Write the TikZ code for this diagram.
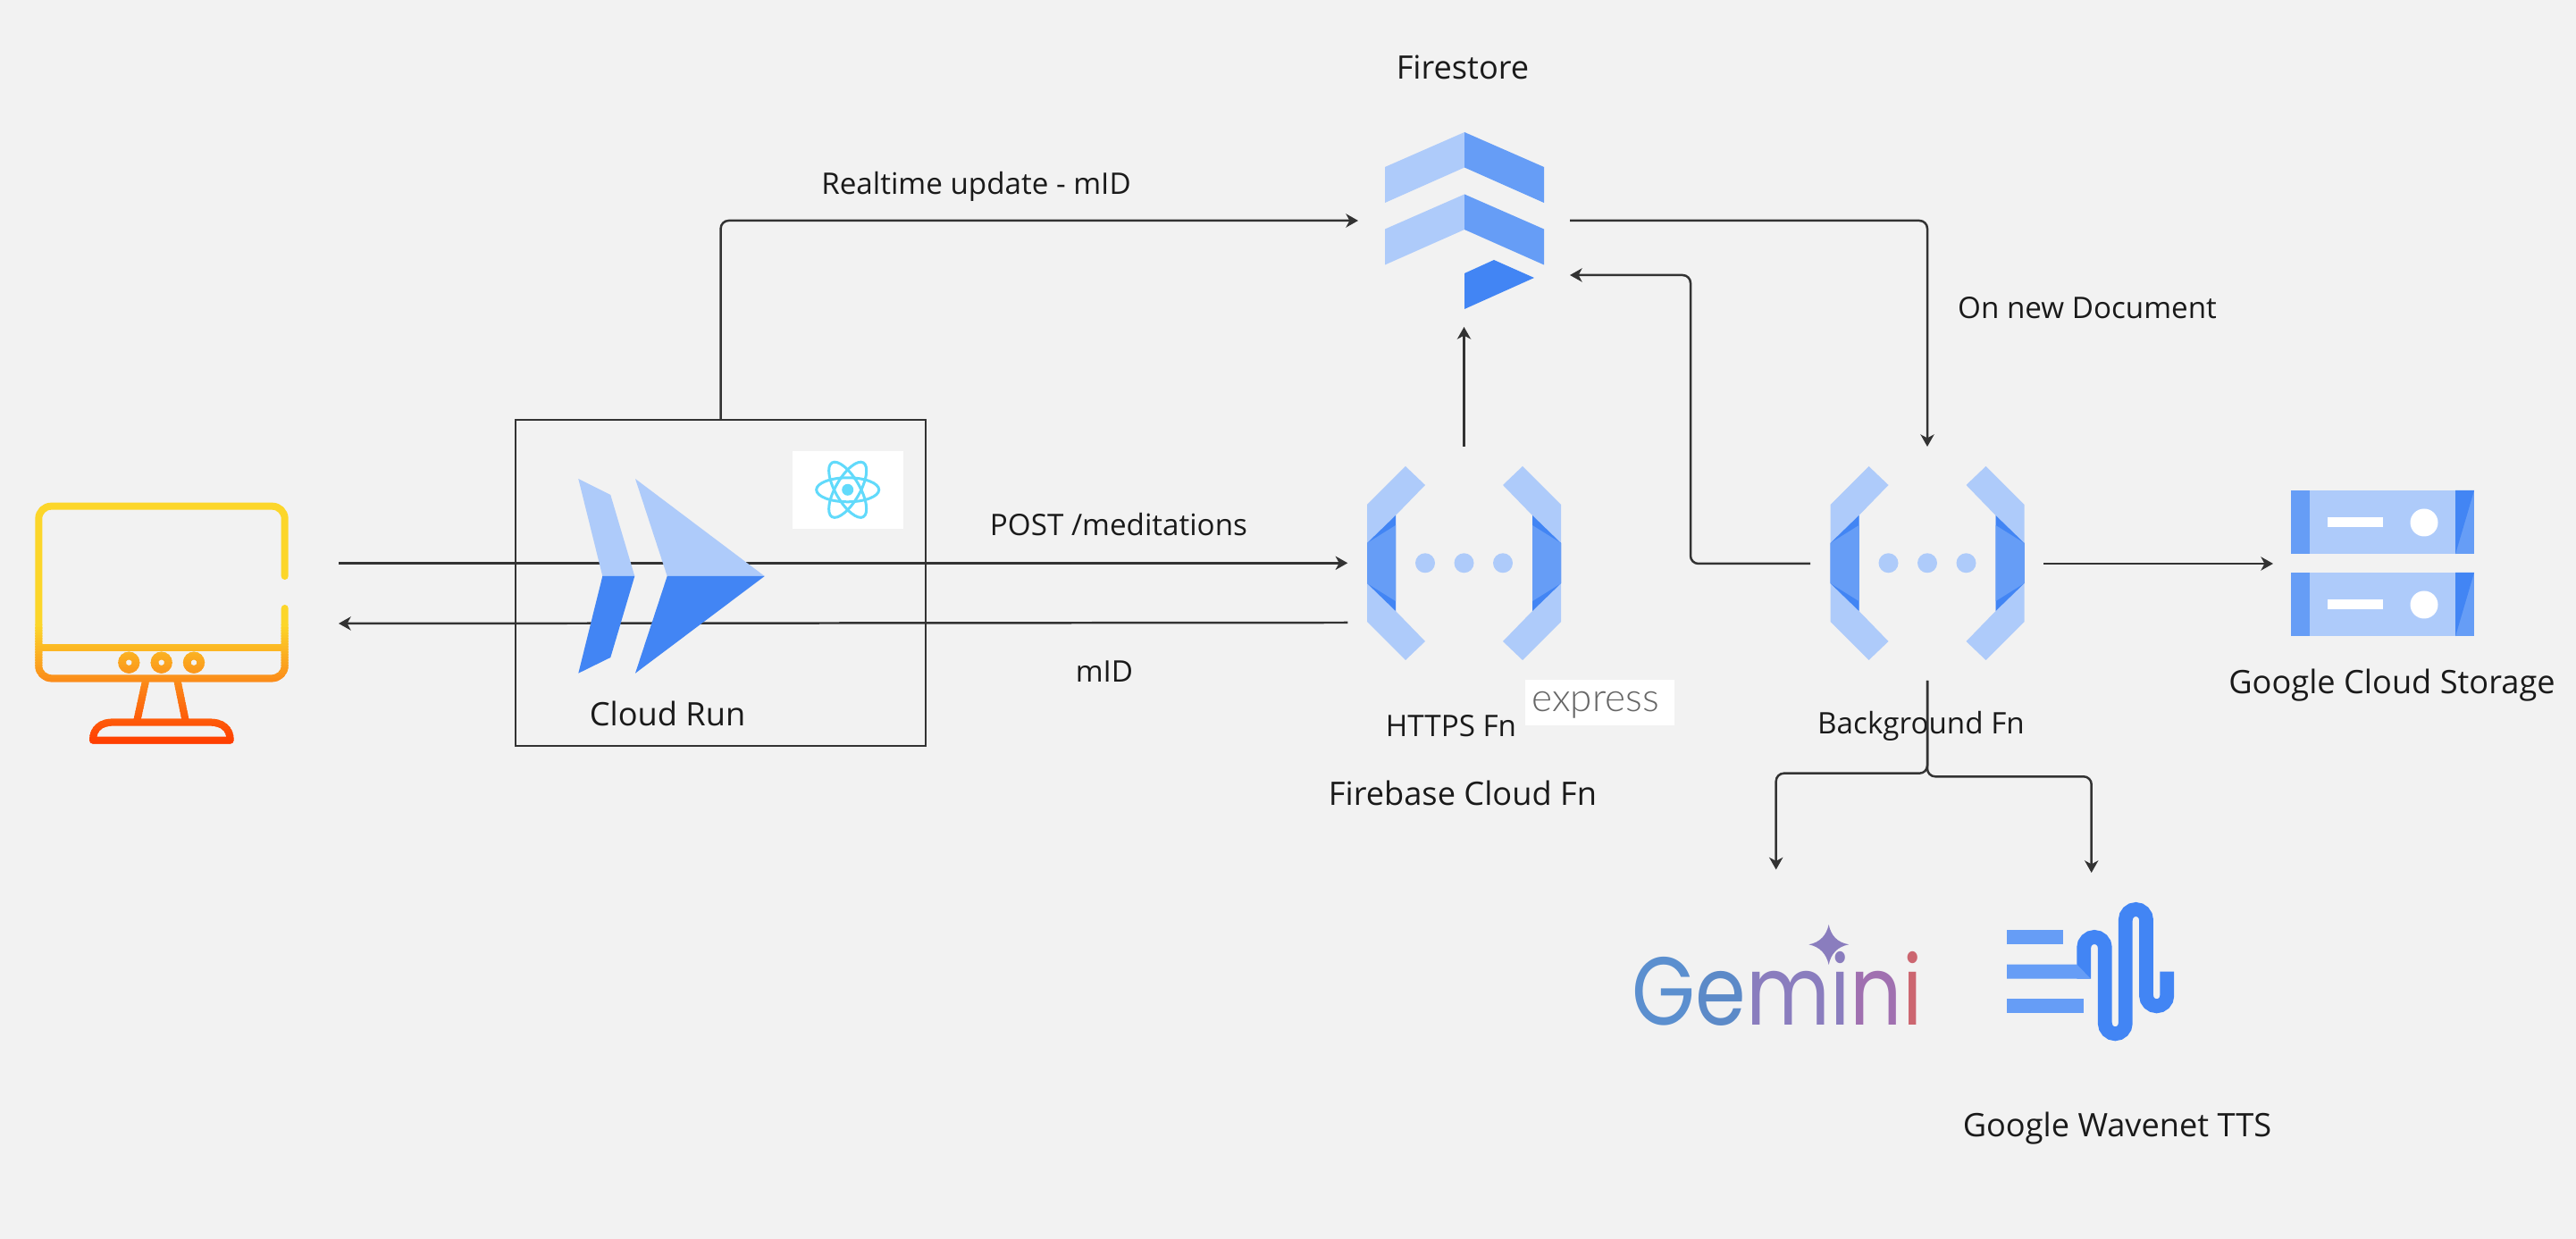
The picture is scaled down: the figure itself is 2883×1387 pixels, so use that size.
\documentclass[tikz,border=0pt]{standalone}
\usepackage{fontspec}
\usepackage{graphicx}
\usetikzlibrary{arrows.meta}
\setmainfont{Open Sans}
\newfontfamily\geminifont{Poppins}
\newfontfamily\expressfont{Lato Light}
\definecolor{bgc}{HTML}{F2F2F2}
\definecolor{gl}{HTML}{AECBFA}
\definecolor{gm}{HTML}{669DF6}
\definecolor{gd}{HTML}{4285F4}
\definecolor{linec}{HTML}{333333}
\definecolor{txt}{HTML}{1A1A1A}
\definecolor{reactc}{HTML}{61DAFB}
\definecolor{mona}{HTML}{FCD62A}
\definecolor{monb}{HTML}{FB8E1A}
\definecolor{monc}{HTML}{FF3D00}
\definecolor{gemA}{HTML}{5B8FCF}
\definecolor{gemB}{HTML}{5C8AC8}
\definecolor{gemC}{HTML}{8A7DBE}
\definecolor{gemD}{HTML}{A070B0}
\definecolor{gemE}{HTML}{CC6670}
\tikzset{
  conn/.style={draw=linec,line width=0.62pt,rounded corners=2.2pt},
  arr/.style={conn,-{Stealth[length=3.4pt,width=3.8pt,inset=1pt]}},
  lab/.style={text=txt,font=\fontsize{9.05pt}{11pt}\selectfont,inner sep=0pt},
  labs/.style={text=txt,font=\fontsize{8.3pt}{10pt}\selectfont,inner sep=0pt},
  monline/.style={line width=2pt,line cap=round,line join=round},
}
\newcommand{\fnicon}[1]{%
 \begin{scope}[xshift=#1*0.25pt]
  \foreach \s in {1,-1}{
   \begin{scope}[xscale=\s]
    \fill[gl] (-108.5,565) -- (-65.5,522) -- (-43.5,543) -- (-76.5,577) -- (-76.5,684) -- (-43.5,718) -- (-65.5,739) -- (-108.5,696) -- cycle;
    \fill[gd] (-108.5,608) -- (-76.5,577) -- (-76.5,684) -- (-108.5,653) -- cycle;
    \fill[gm] (-108.5,608) -- (-76.5,588) -- (-76.5,673) -- (-108.5,653) -- cycle;
   \end{scope}}
  \foreach \d in {-43.5,0,43.5}{\fill[gl] (\d,630.3) circle[radius=11];}
 \end{scope}}
\newcommand{\storageunit}[1]{%
 \begin{scope}[yshift=-#1*0.25pt]
  \fill[gl] (2564,549) rectangle (2769,620.5);
  \fill[gm] (2564,549) rectangle (2585,620.5);
  \fill[gm] (2748,549) rectangle (2769,620.5);
  \fill[gd] (2748,549) -- (2769,549) -- (2748,620.5) -- cycle;
  \fill[white] (2605,579) rectangle (2667,590);
  \fill[white] (2713,585) circle[radius=15.5];
 \end{scope}}
\newcommand{\monitorshape}{%
  \draw[monline,rounded corners=3.5pt] (318.7,645) -- (318.7,566.7) -- (43.3,566.7) -- (43.3,759.3) -- (318.7,759.3) -- (318.7,681);
  \draw[monline,line cap=butt] (43.3,725) -- (318.7,725);
  \draw[line width=2.15pt] (144.3,741.7) circle[radius=7.7];
  \draw[line width=2.15pt] (180.7,741.7) circle[radius=7.7];
  \draw[line width=2.15pt] (217,741.7) circle[radius=7.7];
  \draw[monline,line cap=butt] (163.3,761) -- (153.3,807);
  \draw[monline,line cap=butt] (198.3,761) -- (207.7,807);
  \draw[monline] (104,828.7) .. controls (104,815) and (114,808.7) .. (125,808.7) -- (236,808.7) .. controls (248,808.7) and (257.7,815) .. (257.7,828.7) -- cycle;
}
\begin{document}
\begin{tikzpicture}[x=0.25pt,y=-0.25pt]
\useasboundingbox (0,0) rectangle (2883,1387);
\fill[bgc] (0,0) rectangle (2883,1387);

% named ports
\coordinate (monOut) at (379,630.3);
\coordinate (monIn) at (379,698);
\coordinate (fnIn) at (1508.3,630.3);
\coordinate (fnOut) at (1508.3,697);
\coordinate (fnUp) at (1638.5,500);
\coordinate (fsBelow) at (1638.5,366);
\coordinate (fsWest) at (1520,247);
\coordinate (fsEast) at (1757,247);
\coordinate (fsEastLow) at (1757,308);
\coordinate (bgTop) at (2157,500);
\coordinate (bgWest) at (2026,631);
\coordinate (bgEast) at (2287,631);
\coordinate (bgBottom) at (2157,762);
\coordinate (forkL) at (2157,865.7);
\coordinate (forkR) at (2157,869.3);
\coordinate (storeWest) at (2544,631);
\coordinate (gemTop) at (1987.7,973.5);
\coordinate (ttsTop) at (2340.7,977);

% Labels under the connectors
\node[labs] (lBg) at (2150,813) {Background Fn};

% Cloud Run box
\node[draw=linec,line width=0.62pt,minimum width=114.7pt,minimum height=91.25pt,inner sep=0pt,anchor=north west] (run) at (576,469) {};

% connectors
\draw[arr] (monOut) -- (fnIn);
\draw[arr] (fnOut) -- (monIn);
\draw[arr] (run.north) |- (fsWest);
\draw[arr] (fsEast) -| (bgTop);
\draw[arr] (fnUp) -- (fsBelow);
\draw[arr] (bgWest) -| (1892,308) -- (fsEastLow);
\draw[arr] (bgEast) -- (storeWest);
\draw[arr] (bgBottom) -- (forkL) -| (gemTop);
\draw[arr] (bgBottom) -- (forkR) -| (ttsTop);

% monitor with vertical gradient in bands
\begin{scope}
 \clip (0,550) rectangle (340,700);
 \begin{scope}[draw=mona]\monitorshape\end{scope}
\end{scope}
\foreach \yy in {700,703,...,838}{
 \pgfmathsetmacro{\pa}{\yy<760 ? (\yy-700)/60*100 : (\yy-760)/72*100}
 \pgfmathsetmacro{\pb}{min(\pa,100)}
 \ifdim\yy pt<760pt
  \colorlet{bandc}{monb!\pb!mona}
 \else
  \colorlet{bandc}{monc!\pb!monb}
 \fi
 \begin{scope}
  \clip (0,\yy) rectangle (340,\yy+3.4);
  \begin{scope}[draw=bandc]\monitorshape\end{scope}
 \end{scope}
}

% Cloud Run icon
\fill[gl] (647.3,536) -- (683.3,554) -- (710.3,645) -- (674.3,645) -- cycle;
\fill[gd] (674.3,645) -- (710.3,645) -- (683.3,736) -- (647.3,753.7) -- cycle;
\fill[gl] (711,536) -- (855.7,645) -- (746.7,645) -- cycle;
\fill[gd] (746.7,645) -- (855.7,645) -- (711,753.7) -- cycle;

% React logo
\fill[white] (887.3,504.7) rectangle (1010.7,591.7);
\foreach \r in {0,60,120}{
 \draw[reactc,line width=0.75pt,rotate around={\r:(948.7,548.3)}] (948.7,548.3) ellipse[x radius=35,y radius=13.5];
}
\fill[reactc] (948.7,548.3) circle[radius=6.5];

% Firestore
\foreach \o in {0,69.5}{
 \begin{scope}[yshift=-\o*0.25pt]
  \fill[gl] (1639,148) -- (1639,187.5) -- (1550,227) -- (1550,187) -- cycle;
  \fill[gm] (1639,148) -- (1728,187) -- (1728,227) -- (1639,187.5) -- cycle;
 \end{scope}}
\fill[gd] (1639,306) -- (1672,291) -- (1717,311) -- (1639,346) -- cycle;

% Functions
\fnicon{1638.5}
\fnicon{2157}

% Express logo
\fill[white] (1707,761) rectangle (1874,812);
\node[inner sep=0pt,anchor=base,text=black!60,font=\expressfont\fontsize{11pt}{13pt}\selectfont] (express) at (1785.5,797) {express};

% Storage
\storageunit{0}
\storageunit{92}

% Gemini
\node[inner sep=0pt,anchor=base west] (gemini) at (1826,1148) {\scalebox{0.845}[1]{\geminifont\fontsize{27pt}{30pt}\selectfont\textcolor{gemA}{G}\textcolor{gemB}{e}\textcolor{gemC}{mi}\textcolor{gemD}{n}\textcolor{gemE}{i}}};
\fill[gemC] (2046.7,1035) .. controls (2049,1047) and (2056,1055) .. (2069,1057.3) .. controls (2056,1060) and (2049,1068) .. (2046.7,1080) .. controls (2044,1068) and (2037,1060) .. (2024.4,1057.3) .. controls (2037,1055) and (2044,1047) .. (2046.7,1035) -- cycle;

% Wavenet
\draw[gd,line width=3.95pt] (2332.2,1095.7) -- (2332.2,1060.7)
 .. controls (2332.2,1054.3) and (2337.6,1049) .. (2344,1049) .. controls (2350.4,1049) and (2355.8,1054.3) .. (2355.8,1060.7)
 -- (2355.8,1145.6)
 .. controls (2355.8,1152) and (2361,1157.3) .. (2367.3,1157.3) .. controls (2373.6,1157.3) and (2378.8,1152) .. (2378.8,1145.6)
 -- (2378.8,1029.7)
 .. controls (2378.8,1023.3) and (2384,1018) .. (2390.4,1018) .. controls (2396.8,1018) and (2402,1023.3) .. (2402,1029.7)
 -- (2402,1114.6)
 .. controls (2402,1121) and (2407.3,1126.3) .. (2413.7,1126.3) .. controls (2420,1126.3) and (2425.3,1121) .. (2425.3,1114.6)
 -- (2425.3,1087.7);
\fill[gm] (2246,1041) rectangle (2309,1057);
\fill[gm] (2246,1079.7) -- (2324.4,1079.7) -- (2340,1095.7) -- (2246,1095.7) -- cycle;
\fill[gm] (2246,1118.3) rectangle (2332,1134.3);

% Labels
\node[lab] (lFirestore) at (1637,75.5) {Firestore};
\node[labs] (lRealtime) at (1092.5,209) {Realtime update - mID};
\node[labs] (lNew) at (2336,344.5) {On new Document};
\node[labs] (lPost) at (1252,587) {POST /meditations};
\node[labs] (lmID) at (1236,752) {mID};
\node[lab] (lRun) at (747,799) {Cloud Run};
\node[labs] (lHttps) at (1624,813) {HTTPS Fn};
\node[lab] (lFirebase) at (1637,888) {Firebase Cloud Fn};
\node[lab] (lStorage) at (2677,767) {Google Cloud Storage};
\node[lab] (lTts) at (2369.5,1263) {Google Wavenet TTS};
\end{tikzpicture}
\end{document}
